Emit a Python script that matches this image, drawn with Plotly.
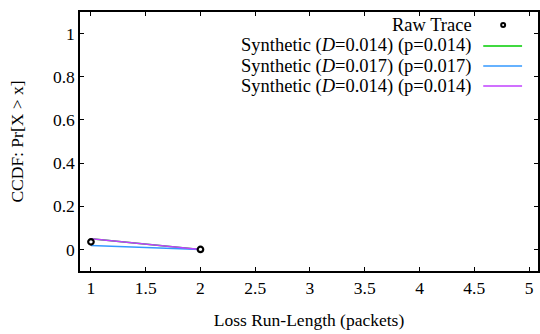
import plotly.graph_objects as go

# data
raw_x = [1, 2]
raw_y = [0.035, 0.0]
syn_x = [1, 2]
syn1_y = [0.049, 0.0]
syn2_y = [0.018, 0.0]
syn3_y = [0.049, 0.0]

names = ["Raw Trace",
         "Synthetic (<i>D</i>=0.014) (p=0.014)",
         "Synthetic (<i>D</i>=0.017) (p=0.017)",
         "Synthetic (<i>D</i>=0.014) (p=0.014)"]
colors = ["#00cc00", "#3399ff", "#c040ff"]

x_ticks = [1, 1.5, 2, 2.5, 3, 3.5, 4, 4.5, 5]
y_ticks = [0, 0.2, 0.4, 0.6, 0.8, 1]

FONT = "Liberation Serif, Times New Roman, serif"
FS = 17.5
FS_LEG = 18.5

fig = go.Figure()
for ys, c in zip([syn1_y, syn2_y, syn3_y], colors):
    fig.add_trace(go.Scatter(x=syn_x, y=ys, mode="lines",
                             line=dict(color=c, width=1.5), showlegend=False))
fig.add_trace(go.Scatter(x=raw_x, y=raw_y, mode="markers",
                         marker=dict(symbol="circle", size=5.5, color="white",
                                     line=dict(color="black", width=2.2)),
                         showlegend=False))

# custom legend (text right-aligned, sample on the right)
W, H = 540, 334
ml, mt, mb, mr = 80, 12, 63, 0
pw, ph = W - ml - mr, H - mt - mb

def px(x):
    return (x - ml) / pw

def py(y):
    return 1 - (y - mt) / ph

leg_rows = [25, 46, 66, 86]
text_right = 476
for i, (name, yy) in enumerate(zip(names, leg_rows)):
    fig.add_annotation(xref="paper", yref="paper", x=px(text_right), y=py(yy),
                       text=name, showarrow=False, xanchor="right", yanchor="middle",
                       font=dict(family=FONT, size=FS_LEG, color="black"))
    if i == 0:
        fig.add_shape(type="circle", xref="paper", yref="paper",
                      x0=px(503), x1=px(507), y0=py(23), y1=py(27),
                      line=dict(color="black", width=2), fillcolor="white")
    else:
        fig.add_shape(type="line", xref="paper", yref="paper",
                      x0=px(485), x1=px(524), y0=py(yy), y1=py(yy),
                      line=dict(color=colors[i - 1], width=1.5))

axis_common = dict(showline=True, linecolor="black", linewidth=1.5, mirror="ticks",
                   ticks="inside", ticklen=4, tickcolor="black", tickwidth=1,
                   showgrid=False, zeroline=False,
                   tickfont=dict(family=FONT, size=FS, color="black"))

fig.update_layout(
    width=W, height=H,
    margin=dict(l=ml, r=mr, t=mt, b=mb),
    paper_bgcolor="white", plot_bgcolor="white",
    xaxis=dict(range=[0.9, 5.082], tickvals=x_ticks,
               ticktext=[str(v) for v in x_ticks],
               title=dict(text="Loss Run-Length (packets)",
                          font=dict(family=FONT, size=FS, color="black"), standoff=17),
               **axis_common),
    yaxis=dict(range=[-0.1, 1.1], tickvals=y_ticks,
               ticktext=[str(v) for v in y_ticks],
               title=dict(text="CCDF: Pr[X > x]",
                          font=dict(family=FONT, size=FS, color="black"), standoff=25),
               **axis_common),
    showlegend=False,
)

fig.write_html("out.html")
